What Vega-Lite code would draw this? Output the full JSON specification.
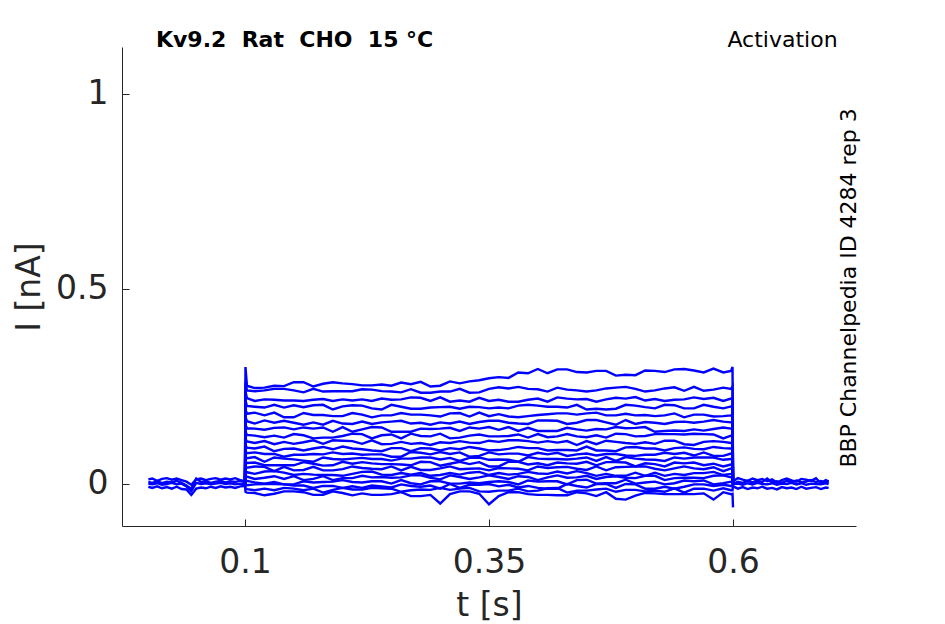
{
"$schema": "https://vega.github.io/schema/vega-lite/v6.json",
"width": 734, "height": 479,
"autosize": {"type": "none"},
"padding": {"left": 122, "top": 47, "right": 89, "bottom": 98},
"background": "white",
"config": {"view": {"stroke": null}, "font": "DejaVu Sans"},
"layer": [
{
"data": {"values": [
{"t":0.001,"p1":0.005,"p2":-0.007,"p3":0.001,"p4":0.012},
{"t":0.005,"p1":0.003,"p2":-0.010,"p3":-0.001,"p4":0.014},
{"t":0.01,"p1":0.007,"p2":-0.006,"p3":0.002,"p4":0.008},
{"t":0.015,"p1":0.002,"p2":-0.011,"p3":-0.002,"p4":0.013},
{"t":0.02,"p1":0.006,"p2":-0.008,"p3":0,"p4":0.015},
{"t":0.025,"p1":0.004,"p2":-0.012,"p3":0.003,"p4":0.011},
{"t":0.03,"p1":0.008,"p2":-0.007,"p3":-0.001,"p4":0.014},
{"t":0.035,"p1":0.003,"p2":-0.013,"p3":0.001,"p4":0.010},
{"t":0.04,"p1":-0.004,"p2":-0.014,"p3":-0.006,"p4":0.006},
{"t":0.045,"p1":-0.012,"p2":-0.028,"p3":-0.018,"p4":-0.002},
{"t":0.05,"p1":0.014,"p2":-0.012,"p3":0.003,"p4":0.012},
{"t":0.055,"p1":0.005,"p2":-0.009,"p3":0,"p4":0.014},
{"t":0.06,"p1":0.007,"p2":-0.011,"p3":0.002,"p4":0.010},
{"t":0.065,"p1":0.003,"p2":-0.007,"p3":-0.001,"p4":0.013},
{"t":0.07,"p1":0.006,"p2":-0.010,"p3":0.001,"p4":0.015},
{"t":0.075,"p1":0.008,"p2":-0.006,"p3":0.003,"p4":0.011},
{"t":0.08,"p1":0.004,"p2":-0.009,"p3":0,"p4":0.014},
{"t":0.085,"p1":0.007,"p2":-0.007,"p3":0.002,"p4":0.012},
{"t":0.09,"p1":0.005,"p2":-0.010,"p3":-0.001,"p4":0.015},
{"t":0.095,"p1":0.009,"p2":-0.006,"p3":0.001,"p4":0.010},
{"t":0.1,"a":0.002,"b":-0.002,"c":0.003,"d":-0.001,"e":0.001,"f":0.004,"g":-0.003,"h":0.002,"i":0,"j":-0.002,"k":0.003,"l":0.001,"m":-0.001,"n":0.002,"o":-0.003,"p":0.001,"q":0,"r":-0.002,"s":0.002,"u":-0.001,"p1":0.004,"p2":-0.005,"p3":0,"p4":0.007},
{"t":0.1005,"a":0.300,"b":0.262,"c":0.238,"d":0.214,"e":0.192,"f":0.172,"g":0.152,"h":0.134,"i":0.116,"j":0.099,"k":0.084,"l":0.070,"m":0.057,"n":0.045,"o":0.032,"p":0.021,"q":0.010,"r":-0.001,"s":-0.011,"u":-0.020},
{"t":0.102,"a":0.252,"b":0.240,"c":0.220,"d":0.200,"e":0.180,"f":0.161,"g":0.143,"h":0.126,"i":0.109,"j":0.093,"k":0.079,"l":0.066,"m":0.054,"n":0.042,"o":0.030,"p":0.019,"q":0.008,"r":-0.003,"s":-0.013,"u":-0.022},
{"t":0.11,"a":0.246,"b":0.238,"c":0.213,"d":0.198,"e":0.183,"f":0.155,"g":0.142,"h":0.124,"i":0.105,"j":0.091,"k":0.081,"l":0.069,"m":0.055,"n":0.045,"o":0.026,"p":0.013,"q":0.004,"r":-0.001,"s":-0.016,"u":-0.023},
{"t":0.12,"a":0.247,"b":0.240,"c":0.217,"d":0.196,"e":0.176,"f":0.163,"g":0.139,"h":0.120,"i":0.110,"j":0.096,"k":0.077,"l":0.057,"m":0.048,"n":0.044,"o":0.032,"p":0.016,"q":0.001,"r":0,"s":-0.012,"u":-0.029},
{"t":0.13,"a":0.252,"b":0.244,"c":0.216,"d":0.203,"e":0.183,"f":0.157,"g":0.144,"h":0.124,"i":0.102,"j":0.084,"k":0.077,"l":0.068,"m":0.048,"n":0.033,"o":0.033,"p":0.020,"q":0.005,"r":0,"s":-0.016,"u":-0.025},
{"t":0.14,"a":0.251,"b":0.244,"c":0.214,"d":0.196,"e":0.171,"f":0.162,"g":0.145,"h":0.119,"i":0.108,"j":0.090,"k":0.070,"l":0.065,"m":0.048,"n":0.044,"o":0.029,"p":0.013,"q":-0.001,"r":-0.001,"s":-0.010,"u":-0.019},
{"t":0.15,"a":0.261,"b":0.240,"c":0.214,"d":0.202,"e":0.171,"f":0.157,"g":0.140,"h":0.128,"i":0.103,"j":0.091,"k":0.075,"l":0.063,"m":0.048,"n":0.035,"o":0.023,"p":0.020,"q":-0.001,"r":-0.004,"s":-0.012,"u":-0.019},
{"t":0.16,"a":0.261,"b":0.235,"c":0.213,"d":0.197,"e":0.182,"f":0.152,"g":0.145,"h":0.125,"i":0.107,"j":0.086,"k":0.075,"l":0.060,"m":0.056,"n":0.036,"o":0.026,"p":0.010,"q":0.007,"r":-0.004,"s":-0.016,"u":-0.021},
{"t":0.17,"a":0.250,"b":0.244,"c":0.216,"d":0.202,"e":0.177,"f":0.158,"g":0.142,"h":0.117,"i":0.112,"j":0.091,"k":0.077,"l":0.057,"m":0.052,"n":0.044,"o":0.024,"p":0.013,"q":0.004,"r":-0.010,"s":-0.012,"u":-0.028},
{"t":0.18,"a":0.257,"b":0.237,"c":0.218,"d":0.203,"e":0.177,"f":0.152,"g":0.145,"h":0.119,"i":0.103,"j":0.095,"k":0.076,"l":0.068,"m":0.047,"n":0.035,"o":0.023,"p":0.020,"q":0.005,"r":-0.005,"s":-0.022,"u":-0.028},
{"t":0.19,"a":0.261,"b":0.238,"c":0.213,"d":0.191,"e":0.174,"f":0.162,"g":0.134,"h":0.119,"i":0.112,"j":0.089,"k":0.081,"l":0.064,"m":0.048,"n":0.035,"o":0.023,"p":0.010,"q":0.006,"r":-0.005,"s":-0.015,"u":-0.019},
{"t":0.20,"a":0.258,"b":0.238,"c":0.217,"d":0.199,"e":0.174,"f":0.155,"g":0.146,"h":0.123,"i":0.111,"j":0.096,"k":0.077,"l":0.063,"m":0.057,"n":0.038,"o":0.021,"p":0.015,"q":0.010,"r":-0.010,"s":-0.010,"u":-0.023},
{"t":0.21,"a":0.256,"b":0.238,"c":0.214,"d":0.202,"e":0.182,"f":0.154,"g":0.134,"h":0.129,"i":0.110,"j":0.091,"k":0.078,"l":0.065,"m":0.052,"n":0.045,"o":0.026,"p":0.015,"q":0.005,"r":-0.006,"s":-0.014,"u":-0.029},
{"t":0.22,"a":0.253,"b":0.243,"c":0.217,"d":0.201,"e":0.178,"f":0.160,"g":0.140,"h":0.128,"i":0.103,"j":0.089,"k":0.075,"l":0.067,"m":0.056,"n":0.041,"o":0.031,"p":0.021,"q":0.004,"r":-0.010,"s":-0.014,"u":-0.024},
{"t":0.23,"a":0.253,"b":0.242,"c":0.213,"d":0.194,"e":0.171,"f":0.154,"g":0.146,"h":0.117,"i":0.112,"j":0.086,"k":0.076,"l":0.064,"m":0.053,"n":0.039,"o":0.032,"p":0.017,"q":0.007,"r":-0.004,"s":-0.010,"u":-0.028},
{"t":0.24,"a":0.255,"b":0.238,"c":0.219,"d":0.191,"e":0.176,"f":0.158,"g":0.145,"h":0.125,"i":0.102,"j":0.084,"k":0.076,"l":0.064,"m":0.051,"n":0.038,"o":0.024,"p":0.018,"q":0.007,"r":-0.006,"s":-0.011,"u":-0.028},
{"t":0.25,"a":0.252,"b":0.237,"c":0.216,"d":0.203,"e":0.176,"f":0.160,"g":0.134,"h":0.127,"i":0.103,"j":0.092,"k":0.070,"l":0.060,"m":0.051,"n":0.045,"o":0.023,"p":0.016,"q":0.001,"r":-0.009,"s":-0.012,"u":-0.026},
{"t":0.26,"a":0.260,"b":0.235,"c":0.217,"d":0.198,"e":0.182,"f":0.162,"g":0.134,"h":0.117,"i":0.108,"j":0.092,"k":0.070,"l":0.065,"m":0.050,"n":0.035,"o":0.028,"p":0.017,"q":0.010,"r":-0.001,"s":-0.020,"u":-0.021},
{"t":0.27,"a":0.256,"b":0.243,"c":0.222,"d":0.193,"e":0.178,"f":0.155,"g":0.134,"h":0.129,"i":0.103,"j":0.084,"k":0.082,"l":0.065,"m":0.048,"n":0.044,"o":0.024,"p":0.022,"q":0.002,"r":-0.005,"s":-0.016,"u":-0.031},
{"t":0.28,"a":0.262,"b":0.234,"c":0.221,"d":0.193,"e":0.178,"f":0.157,"g":0.142,"h":0.123,"i":0.105,"j":0.092,"k":0.080,"l":0.068,"m":0.057,"n":0.036,"o":0.028,"p":0.022,"q":-0.001,"r":-0.007,"s":-0.014,"u":-0.031},
{"t":0.29,"a":0.250,"b":0.234,"c":0.213,"d":0.196,"e":0.176,"f":0.152,"g":0.141,"h":0.122,"i":0.100,"j":0.091,"k":0.076,"l":0.068,"m":0.056,"n":0.036,"o":0.021,"p":0.016,"q":0.007,"r":-0.004,"s":-0.015,"u":-0.028},
{"t":0.30,"a":0.252,"b":0.237,"c":0.222,"d":0.197,"e":0.173,"f":0.158,"g":0.142,"h":0.129,"i":0.107,"j":0.086,"k":0.082,"l":0.063,"m":0.047,"n":0.040,"o":0.023,"p":0.012,"q":0.007,"r":-0.012,"s":-0.010,"u":-0.050},
{"t":0.31,"a":0.263,"b":0.237,"c":0.211,"d":0.198,"e":0.181,"f":0.155,"g":0.144,"h":0.117,"i":0.105,"j":0.092,"k":0.077,"l":0.067,"m":0.052,"n":0.045,"o":0.028,"p":0.022,"q":0.001,"r":0,"s":-0.015,"u":-0.026},
{"t":0.32,"a":0.258,"b":0.244,"c":0.214,"d":0.193,"e":0.182,"f":0.160,"g":0.136,"h":0.119,"i":0.110,"j":0.089,"k":0.081,"l":0.059,"m":0.057,"n":0.038,"o":0.024,"p":0.018,"q":0.001,"r":-0.010,"s":-0.012,"u":-0.019},
{"t":0.33,"a":0.263,"b":0.234,"c":0.211,"d":0.198,"e":0.173,"f":0.154,"g":0.145,"h":0.124,"i":0.106,"j":0.095,"k":0.070,"l":0.067,"m":0.051,"n":0.039,"o":0.029,"p":0.013,"q":0.004,"r":-0.002,"s":-0.010,"u":-0.019},
{"t":0.34,"a":0.266,"b":0.235,"c":0.221,"d":0.197,"e":0.183,"f":0.159,"g":0.142,"h":0.127,"i":0.105,"j":0.091,"k":0.072,"l":0.068,"m":0.056,"n":0.040,"o":0.031,"p":0.017,"q":0.002,"r":-0.002,"s":-0.019,"u":-0.025},
{"t":0.35,"a":0.271,"b":0.244,"c":0.213,"d":0.194,"e":0.174,"f":0.162,"g":0.146,"h":0.122,"i":0.111,"j":0.086,"k":0.081,"l":0.062,"m":0.045,"n":0.035,"o":0.023,"p":0.022,"q":0.005,"r":0,"s":-0.020,"u":-0.052},
{"t":0.36,"a":0.274,"b":0.248,"c":0.216,"d":0.196,"e":0.179,"f":0.162,"g":0.139,"h":0.122,"i":0.108,"j":0.087,"k":0.076,"l":0.063,"m":0.045,"n":0.041,"o":0.028,"p":0.018,"q":0.007,"r":-0.006,"s":-0.017,"u":-0.031},
{"t":0.37,"a":0.272,"b":0.245,"c":0.211,"d":0.194,"e":0.173,"f":0.157,"g":0.146,"h":0.123,"i":0.112,"j":0.090,"k":0.078,"l":0.062,"m":0.057,"n":0.040,"o":0.024,"p":0.013,"q":0.005,"r":-0.002,"s":-0.017,"u":-0.021},
{"t":0.38,"a":0.286,"b":0.249,"c":0.211,"d":0.201,"e":0.171,"f":0.155,"g":0.136,"h":0.127,"i":0.112,"j":0.095,"k":0.078,"l":0.057,"m":0.057,"n":0.039,"o":0.026,"p":0.020,"q":-0.001,"r":-0.009,"s":-0.012,"u":-0.021},
{"t":0.39,"a":0.284,"b":0.244,"c":0.216,"d":0.203,"e":0.174,"f":0.154,"g":0.144,"h":0.119,"i":0.110,"j":0.092,"k":0.073,"l":0.069,"m":0.050,"n":0.035,"o":0.031,"p":0.018,"q":0.009,"r":-0.005,"s":-0.019,"u":-0.026},
{"t":0.40,"a":0.295,"b":0.243,"c":0.219,"d":0.201,"e":0.177,"f":0.163,"g":0.136,"h":0.128,"i":0.106,"j":0.092,"k":0.080,"l":0.065,"m":0.053,"n":0.045,"o":0.027,"p":0.010,"q":0.006,"r":-0.010,"s":-0.017,"u":-0.028},
{"t":0.41,"a":0.284,"b":0.237,"c":0.211,"d":0.198,"e":0.179,"f":0.163,"g":0.136,"h":0.120,"i":0.110,"j":0.086,"k":0.076,"l":0.064,"m":0.048,"n":0.041,"o":0.026,"p":0.017,"q":0.007,"r":-0.012,"s":-0.011,"u":-0.028},
{"t":0.42,"a":0.294,"b":0.247,"c":0.222,"d":0.198,"e":0.181,"f":0.162,"g":0.136,"h":0.122,"i":0.106,"j":0.087,"k":0.080,"l":0.064,"m":0.055,"n":0.043,"o":0.032,"p":0.022,"q":0.007,"r":-0.012,"s":-0.010,"u":-0.029},
{"t":0.43,"a":0.294,"b":0.242,"c":0.219,"d":0.196,"e":0.181,"f":0.154,"g":0.144,"h":0.128,"i":0.110,"j":0.087,"k":0.072,"l":0.063,"m":0.053,"n":0.044,"o":0.027,"p":0.016,"q":-0.001,"r":0,"s":-0.022,"u":-0.029},
{"t":0.44,"a":0.287,"b":0.240,"c":0.217,"d":0.203,"e":0.178,"f":0.157,"g":0.140,"h":0.122,"i":0.100,"j":0.086,"k":0.076,"l":0.065,"m":0.052,"n":0.039,"o":0.033,"p":0.017,"q":0.010,"r":-0.005,"s":-0.017,"u":-0.021},
{"t":0.45,"a":0.286,"b":0.237,"c":0.218,"d":0.191,"e":0.181,"f":0.164,"g":0.137,"h":0.120,"i":0.110,"j":0.096,"k":0.078,"l":0.068,"m":0.057,"n":0.036,"o":0.028,"p":0.021,"q":0.011,"r":-0.009,"s":-0.017,"u":-0.024},
{"t":0.46,"a":0.290,"b":0.240,"c":0.211,"d":0.193,"e":0.183,"f":0.164,"g":0.141,"h":0.125,"i":0.102,"j":0.086,"k":0.073,"l":0.059,"m":0.048,"n":0.045,"o":0.021,"p":0.013,"q":0.001,"r":0,"s":-0.014,"u":-0.031},
{"t":0.47,"a":0.290,"b":0.245,"c":0.217,"d":0.191,"e":0.176,"f":0.158,"g":0.140,"h":0.119,"i":0.111,"j":0.086,"k":0.077,"l":0.069,"m":0.056,"n":0.035,"o":0.026,"p":0.018,"q":0.002,"r":0,"s":-0.012,"u":-0.021},
{"t":0.48,"a":0.278,"b":0.247,"c":0.221,"d":0.193,"e":0.176,"f":0.152,"g":0.146,"h":0.129,"i":0.108,"j":0.084,"k":0.077,"l":0.059,"m":0.056,"n":0.043,"o":0.021,"p":0.020,"q":0.002,"r":-0.010,"s":-0.020,"u":-0.038},
{"t":0.49,"a":0.280,"b":0.249,"c":0.219,"d":0.203,"e":0.180,"f":0.164,"g":0.143,"h":0.128,"i":0.105,"j":0.094,"k":0.073,"l":0.069,"m":0.055,"n":0.044,"o":0.021,"p":0.016,"q":0.011,"r":0,"s":-0.015,"u":-0.040},
{"t":0.50,"a":0.279,"b":0.244,"c":0.223,"d":0.201,"e":0.176,"f":0.154,"g":0.144,"h":0.122,"i":0.103,"j":0.095,"k":0.072,"l":0.065,"m":0.045,"n":0.045,"o":0.029,"p":0.015,"q":0.001,"r":-0.001,"s":-0.015,"u":-0.030},
{"t":0.51,"a":0.291,"b":0.237,"c":0.214,"d":0.197,"e":0.177,"f":0.159,"g":0.146,"h":0.123,"i":0.107,"j":0.091,"k":0.075,"l":0.063,"m":0.053,"n":0.045,"o":0.021,"p":0.021,"q":0.004,"r":-0.012,"s":-0.019,"u":-0.023},
{"t":0.52,"a":0.290,"b":0.240,"c":0.218,"d":0.194,"e":0.174,"f":0.157,"g":0.134,"h":0.128,"i":0.103,"j":0.091,"k":0.075,"l":0.062,"m":0.051,"n":0.039,"o":0.029,"p":0.021,"q":0.006,"r":-0.012,"s":-0.017,"u":-0.024},
{"t":0.53,"a":0.287,"b":0.245,"c":0.213,"d":0.203,"e":0.176,"f":0.154,"g":0.136,"h":0.128,"i":0.111,"j":0.086,"k":0.080,"l":0.059,"m":0.045,"n":0.035,"o":0.021,"p":0.010,"q":-0.001,"r":-0.007,"s":-0.020,"u":-0.026},
{"t":0.54,"a":0.294,"b":0.248,"c":0.216,"d":0.202,"e":0.181,"f":0.159,"g":0.137,"h":0.128,"i":0.111,"j":0.092,"k":0.077,"l":0.068,"m":0.055,"n":0.040,"o":0.026,"p":0.015,"q":0.002,"r":-0.012,"s":-0.011,"u":-0.026},
{"t":0.55,"a":0.295,"b":0.239,"c":0.217,"d":0.194,"e":0.171,"f":0.160,"g":0.136,"h":0.127,"i":0.102,"j":0.094,"k":0.080,"l":0.065,"m":0.053,"n":0.045,"o":0.023,"p":0.016,"q":0.009,"r":-0.007,"s":-0.022,"u":-0.026},
{"t":0.56,"a":0.291,"b":0.249,"c":0.222,"d":0.194,"e":0.178,"f":0.157,"g":0.140,"h":0.129,"i":0.100,"j":0.090,"k":0.073,"l":0.068,"m":0.055,"n":0.040,"o":0.028,"p":0.016,"q":0.007,"r":-0.001,"s":-0.012,"u":-0.026},
{"t":0.57,"a":0.286,"b":0.239,"c":0.218,"d":0.203,"e":0.178,"f":0.160,"g":0.137,"h":0.128,"i":0.108,"j":0.089,"k":0.081,"l":0.068,"m":0.048,"n":0.038,"o":0.028,"p":0.015,"q":0.009,"r":-0.001,"s":-0.012,"u":-0.024},
{"t":0.58,"a":0.296,"b":0.242,"c":0.221,"d":0.198,"e":0.173,"f":0.164,"g":0.141,"h":0.127,"i":0.110,"j":0.095,"k":0.072,"l":0.068,"m":0.052,"n":0.043,"o":0.031,"p":0.021,"q":-0.001,"r":-0.005,"s":-0.017,"u":-0.040},
{"t":0.59,"a":0.286,"b":0.247,"c":0.213,"d":0.194,"e":0.174,"f":0.160,"g":0.145,"h":0.117,"i":0.108,"j":0.092,"k":0.072,"l":0.062,"m":0.045,"n":0.033,"o":0.023,"p":0.022,"q":0.002,"r":-0.002,"s":-0.011,"u":-0.021},
{"t":0.598,"a":0.290,"b":0.244,"c":0.219,"d":0.199,"e":0.176,"f":0.158,"g":0.142,"h":0.124,"i":0.105,"j":0.091,"k":0.078,"l":0.064,"m":0.050,"n":0.040,"o":0.026,"p":0.017,"q":0.006,"r":-0.005,"s":-0.016,"u":-0.026},
{"t":0.5995,"a":0.300,"b":0.250,"c":0.218,"d":0.198,"e":0.178,"f":0.159,"g":0.141,"h":0.124,"i":0.107,"j":0.091,"k":0.077,"l":0.064,"m":0.051,"n":0.039,"o":0.027,"p":0.016,"q":0.005,"r":-0.006,"s":-0.016,"u":-0.025},
{"t":0.6,"a":0.004,"b":-0.002,"c":0.003,"d":0,"e":0.005,"f":-0.003,"g":0.002,"h":-0.004,"i":0.001,"j":0.003,"k":-0.002,"l":0,"m":0.004,"n":-0.001,"o":0.002,"p":-0.003,"q":0.001,"r":0,"s":-0.002,"u":-0.060,"q1":0,"q2":-0.006,"q3":0,"q4":0.007},
{"t":0.605,"q1":0.006,"q2":-0.012,"q3":0.001,"q4":0.015},
{"t":0.61,"q1":0.003,"q2":-0.008,"q3":-0.002,"q4":0.011},
{"t":0.615,"q1":0.008,"q2":-0.013,"q3":0.002,"q4":0.008},
{"t":0.62,"q1":0.004,"q2":-0.009,"q3":-0.001,"q4":0.014},
{"t":0.625,"q1":0.009,"q2":-0.011,"q3":0.003,"q4":0.010},
{"t":0.63,"q1":0.005,"q2":-0.007,"q3":0,"q4":0.013},
{"t":0.635,"q1":0.014,"q2":-0.012,"q3":-0.001,"q4":0.007},
{"t":0.64,"q1":0.004,"q2":-0.010,"q3":0.002,"q4":0.012},
{"t":0.645,"q1":0.007,"q2":-0.014,"q3":-0.002,"q4":0.003},
{"t":0.65,"q1":0.003,"q2":-0.008,"q3":0.001,"q4":0.010},
{"t":0.655,"q1":0.008,"q2":-0.011,"q3":0,"q4":0.014},
{"t":0.66,"q1":0.005,"q2":-0.009,"q3":0.003,"q4":0.009},
{"t":0.665,"q1":0.009,"q2":-0.013,"q3":-0.001,"q4":0.006},
{"t":0.67,"q1":0.004,"q2":-0.007,"q3":0.002,"q4":0.013},
{"t":0.675,"q1":0.006,"q2":-0.012,"q3":-0.002,"q4":0.011},
{"t":0.68,"q1":0.010,"q2":-0.010,"q3":0.001,"q4":0.008},
{"t":0.685,"q1":0.005,"q2":-0.008,"q3":0,"q4":0.015},
{"t":0.69,"q1":0.008,"q2":-0.013,"q3":-0.001,"q4":0.002},
{"t":0.695,"q1":0.004,"q2":-0.009,"q3":0.002,"q4":0.010},
{"t":0.698,"q1":0.006,"q2":-0.010,"q3":0,"q4":0.007}
]},
"transform": [
{"fold": ["p1","p2","p3","p4","a","b","c","d","e","f","g","h","i","j","k","l","m","n","o","p","q","r","s","u","q1","q2","q3","q4"], "as": ["k","I"]},
{"filter": "isValid(datum.I)"}
],
"mark": {"type": "line", "color": "#0000ff", "strokeWidth": 2.4, "clip": false},
"encoding": {
"x": {"field": "t", "type": "quantitative",
"scale": {"domain": [-0.026, 0.726], "zero": false, "nice": false},
"axis": {"values": [0.1, 0.35, 0.6], "format": "~g", "title": "t [s]", "grid": false,
"domainColor": "#262626", "domainWidth": 1, "tickColor": "#262626", "tickSize": -7, "tickWidth": 1,
"labelFont": "DejaVu Sans", "labelFontSize": 33, "labelColor": "#262626", "labelPadding": 27, "labelFlush": false,
"titleFont": "DejaVu Sans", "titleFontSize": 33, "titleColor": "#262626", "titleFontWeight": "normal", "titlePadding": 10}},
"y": {"field": "I", "type": "quantitative",
"scale": {"domain": [-0.1077, 1.1205], "zero": false, "nice": false},
"axis": {"values": [0, 0.5, 1], "format": "~g", "title": "I [nA]", "grid": false,
"domainColor": "#262626", "domainWidth": 1, "tickColor": "#262626", "tickSize": -7, "tickWidth": 1,
"labelFont": "DejaVu Sans", "labelFontSize": 33, "labelColor": "#262626", "labelPadding": 21, "labelFlush": false,
"titleFont": "DejaVu Sans", "titleFontSize": 33, "titleColor": "#262626", "titleFontWeight": "normal", "titlePadding": 9}},
"detail": {"field": "k", "type": "nominal"}
}
},
{
"data": {"values": [{"t": 0.0088, "I": 1.1205, "label": "Kv9.2\u00a0 Rat\u00a0 CHO\u00a0 15 °C"}]},
"mark": {"type": "text", "font": "DejaVu Sans", "fontSize": 22, "fontWeight": "bold", "align": "left", "baseline": "alphabetic", "color": "#000000"},
"encoding": {"x": {"field": "t", "type": "quantitative"}, "y": {"field": "I", "type": "quantitative"}, "text": {"field": "label"}}
},
{
"data": {"values": [{"t": 0.6507, "I": 1.1205, "label": "Activation"}]},
"mark": {"type": "text", "font": "DejaVu Sans", "fontSize": 22, "align": "center", "baseline": "alphabetic", "color": "#000000"},
"encoding": {"x": {"field": "t", "type": "quantitative"}, "y": {"field": "I", "type": "quantitative"}, "text": {"field": "label"}}
},
{
"data": {"values": [{"t": 0.7255, "I": 0.5026, "label": "BBP Channelpedia ID 4284 rep 3"}]},
"mark": {"type": "text", "font": "DejaVu Sans", "fontSize": 22, "align": "center", "baseline": "alphabetic", "angle": 270, "color": "#000000"},
"encoding": {"x": {"field": "t", "type": "quantitative"}, "y": {"field": "I", "type": "quantitative"}, "text": {"field": "label"}}
}
]
}
